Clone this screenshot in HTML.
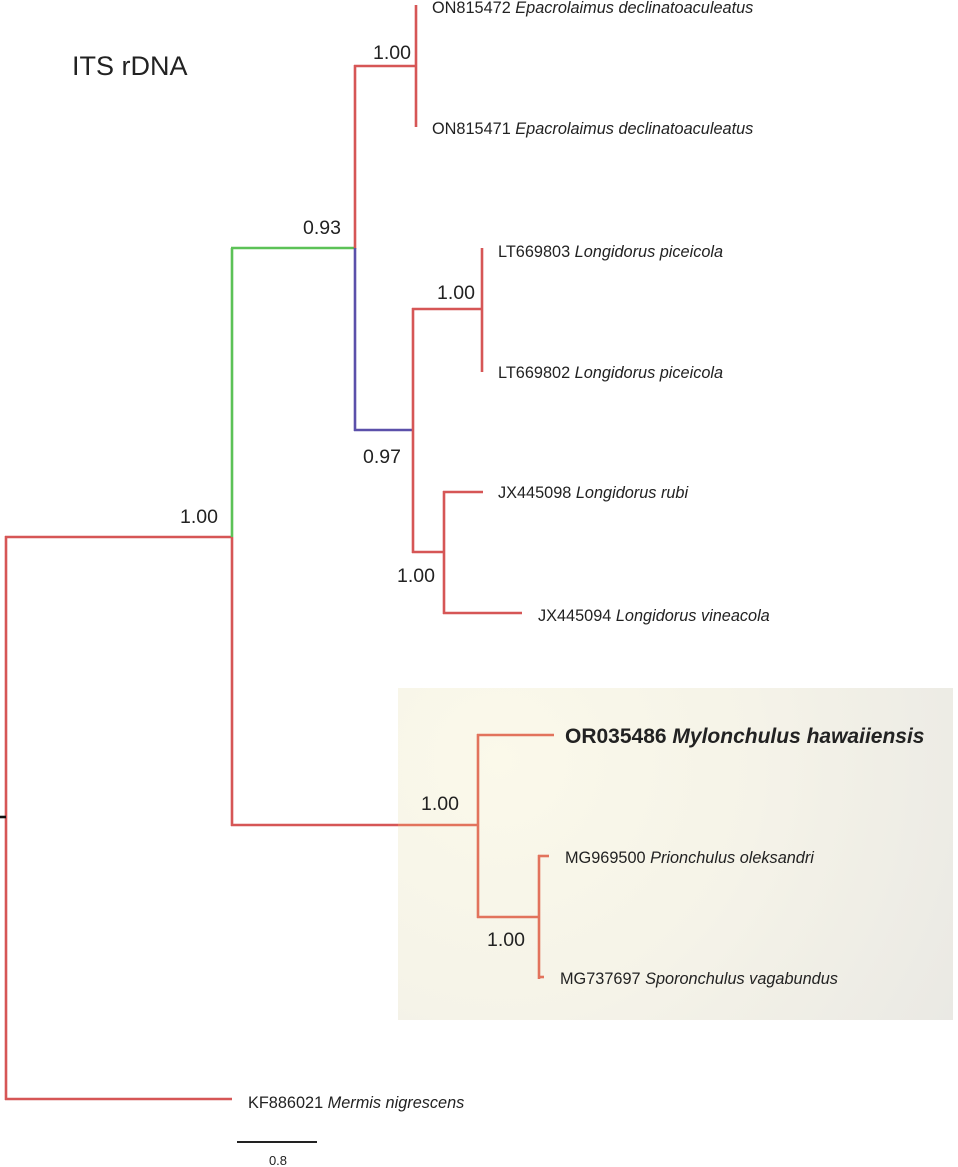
<!DOCTYPE html>
<html><head><meta charset="utf-8"><style>
html,body{margin:0;padding:0;background:#fff;}
svg{display:block;}
text{font-family:"Liberation Sans",Arial,sans-serif;fill:#222;}
</style></head><body>
<svg width="958" height="1167" viewBox="0 0 958 1167" xmlns="http://www.w3.org/2000/svg">
<defs>
<radialGradient id="bg" cx="500" cy="760" r="520" gradientUnits="userSpaceOnUse">
<stop offset="0" stop-color="#fbf9ea"/>
<stop offset="0.5" stop-color="#f5f3e8"/>
<stop offset="1" stop-color="#eae9e4"/>
</radialGradient>
</defs>
<rect x="398" y="688" width="555" height="332" fill="url(#bg)"/>

<g fill="none" stroke-width="2.6" stroke-linecap="butt">
<path d="M6 536 V1100" stroke="#d65656"/>
<path d="M0 817 H6" stroke="#111"/>
<path d="M5 537 H233" stroke="#d65656"/>
<path d="M5 1099 H232" stroke="#d65656"/>
<path d="M232 248 V537" stroke="#5cc257"/>
<path d="M232 537 V826" stroke="#d65656"/>
<path d="M231 248 H355" stroke="#5cc257"/>
<path d="M231 825 H398" stroke="#d65656"/>
<path d="M398 825 H479" stroke="#e2735c"/>
<path d="M355 65 V249" stroke="#d65656"/>
<path d="M355 248 V431" stroke="#5b50aa"/>
<path d="M354 66 H416" stroke="#d65656"/>
<path d="M416 5 V127" stroke="#d65656"/>
<path d="M354 430 H413" stroke="#5b50aa"/>
<path d="M413 308 V553" stroke="#d65656"/>
<path d="M412 309 H482" stroke="#d65656"/>
<path d="M482 248 V372" stroke="#d65656"/>
<path d="M412 552 H444" stroke="#d65656"/>
<path d="M444 491 V614" stroke="#d65656"/>
<path d="M443 492 H483" stroke="#d65656"/>
<path d="M443 613 H522" stroke="#d65656"/>
<path d="M478 734 V918" stroke="#e2735c"/>
<path d="M477 735 H554" stroke="#e2735c"/>
<path d="M477 917 H539" stroke="#e2735c"/>
<path d="M539 855 V979" stroke="#e2735c"/>
<path d="M538 856 H549" stroke="#e2735c"/>
<path d="M538 977 H544" stroke="#e2735c"/>
<path d="M237 1142 H317" stroke="#222" stroke-width="2"/>
</g>

<text x="72" y="75" font-size="27">ITS rDNA</text>

<g font-size="19.5">
<text x="373" y="59">1.00</text>
<text x="303" y="234">0.93</text>
<text x="437" y="299">1.00</text>
<text x="363" y="463">0.97</text>
<text x="397" y="582">1.00</text>
<text x="180" y="523">1.00</text>
<text x="421" y="810">1.00</text>
<text x="487" y="946">1.00</text>
</g>

<g font-size="16.3">
<text x="432" y="13">ON815472 <tspan font-style="italic">Epacrolaimus declinatoaculeatus</tspan></text>
<text x="432" y="134">ON815471 <tspan font-style="italic">Epacrolaimus declinatoaculeatus</tspan></text>
<text x="498" y="257">LT669803 <tspan font-style="italic">Longidorus piceicola</tspan></text>
<text x="498" y="378">LT669802 <tspan font-style="italic">Longidorus piceicola</tspan></text>
<text x="498" y="498">JX445098 <tspan font-style="italic">Longidorus rubi</tspan></text>
<text x="538" y="621">JX445094 <tspan font-style="italic">Longidorus vineacola</tspan></text>
<text x="565" y="863">MG969500 <tspan font-style="italic">Prionchulus oleksandri</tspan></text>
<text x="560" y="984">MG737697 <tspan font-style="italic">Sporonchulus vagabundus</tspan></text>
<text x="248" y="1108">KF886021 <tspan font-style="italic">Mermis nigrescens</tspan></text>
</g>

<text x="565" y="743" font-size="21" font-weight="bold">OR035486 <tspan font-style="italic">Mylonchulus hawaiiensis</tspan></text>

<text x="278" y="1165" font-size="13" text-anchor="middle">0.8</text>
</svg>
</body></html>
